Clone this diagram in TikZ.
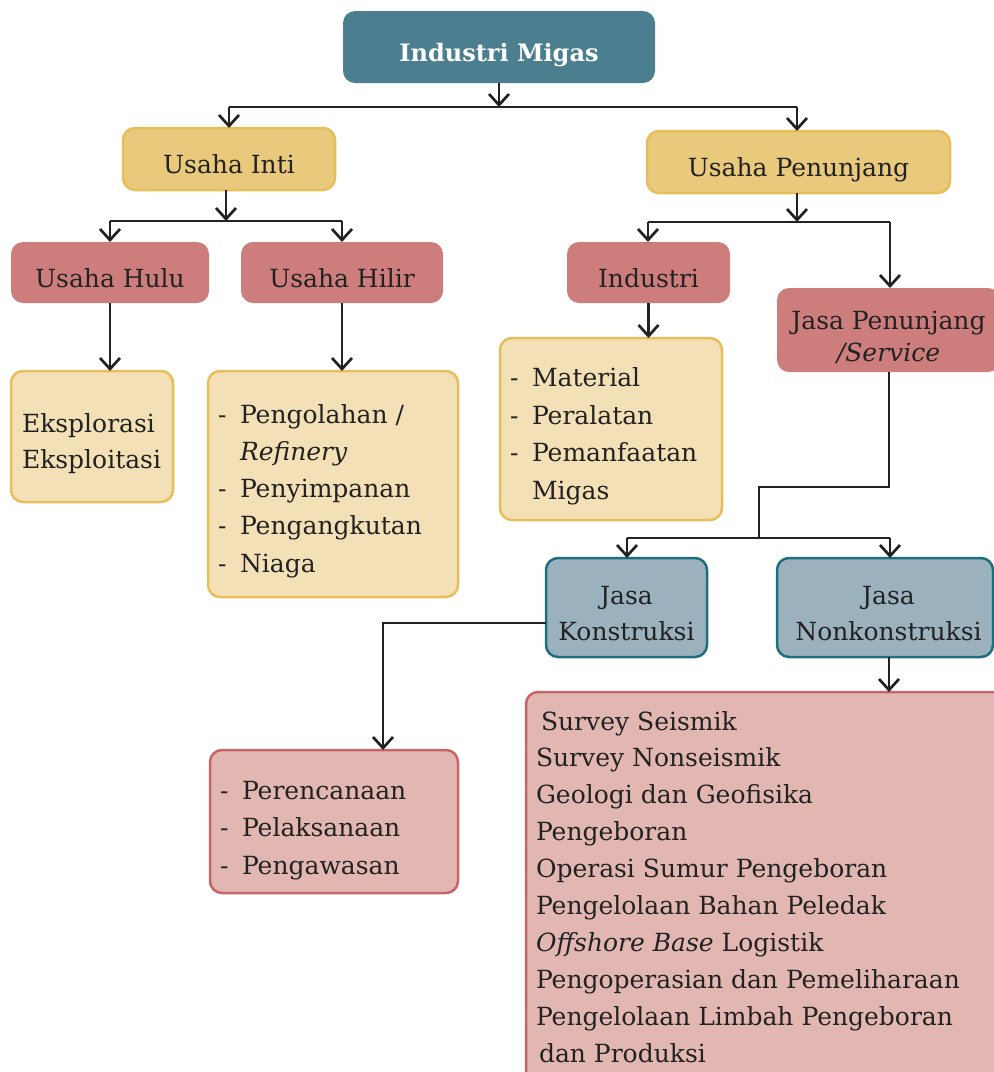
\documentclass[tikz,border=0pt]{standalone}
\usepackage{fontspec}
\setmainfont{DejaVu Serif}
\usetikzlibrary{arrows.meta}
\definecolor{tealhead}{HTML}{4B7F90}
\definecolor{goldfill}{HTML}{E9C97B}
\definecolor{goldline}{HTML}{E6BE5A}
\definecolor{salmon}{HTML}{CD7E7C}
\definecolor{creamfill}{HTML}{F4E0B6}
\definecolor{greyblue}{HTML}{9BB1BD}
\definecolor{tealline}{HTML}{1E6E7F}
\definecolor{pinkfill}{HTML}{E2B7B2}
\definecolor{pinkline}{HTML}{C96567}
\definecolor{ink}{HTML}{222222}
% box body: width, height, first baseline from top, alignment, lines
\newcommand\panel[5]{%
  \begin{minipage}[c][#2pt][t]{#1pt}#4%
  \vspace*{\dimexpr#3pt-19pt\relax}\rule{0pt}{19pt}#5\end{minipage}}
\newcommand\bul{\makebox[22pt][l]{-}}
\newcommand\hang{\hspace*{22pt}}
\begin{document}
\begin{tikzpicture}[x=1pt,y=-1pt,
  every node/.style={text=ink, font=\fontsize{25}{37.5}\selectfont, inner sep=0pt,
    outer sep=0pt, anchor=north west},
  headbox/.style={fill=tealhead, rounded corners=12pt, text=white,
    font=\fontsize{24}{30}\selectfont\bfseries},
  goldbox/.style={fill=goldfill, draw=goldline, line width=2.5pt, rounded corners=12pt},
  redbox/.style={fill=salmon, rounded corners=12pt},
  creambox/.style={fill=creamfill, draw=goldline, line width=2.5pt, rounded corners=12pt},
  bluebox/.style={fill=greyblue, draw=tealline, line width=2.5pt, rounded corners=12pt},
  pinkbox/.style={fill=pinkfill, draw=pinkline, line width=2.5pt, rounded corners=12pt},
  link/.style={draw=ink, line width=2.7pt},
  arr/.style={link, -{Straight Barb[length=11pt,width=20pt]}}
]
\useasboundingbox (0,0) rectangle (994,1072);
\clip (0,0) rectangle (994,1072);

% first level
\node[headbox] (migas) at (343,11) {\panel{312}{72}{50.5}{\centering}{Industri Migas}};
\node[goldbox] (inti) at (123,128) {\panel{212}{62}{45}{\centering}{Usaha Inti}};
\node[goldbox] (penunjang) at (647,131) {\panel{303}{62}{45}{\centering}{Usaha Penunjang}};

% second level
\node[redbox] (hulu) at (11,242) {\panel{198}{61}{45}{\centering}{Usaha Hulu}};
\node[redbox] (hilir) at (241,242) {\panel{202}{61}{45}{\centering}{Usaha Hilir}};
\node[redbox] (industri) at (567,242) {\panel{163}{61}{45}{\centering}{Industri}};
\node[redbox] (jasa) at (777,288)
  {\fontsize{25}{32}\selectfont\panel{223}{84}{41}{\centering}{Jasa Penunjang\\\textit{/Service}}};

% detail boxes
\node[creambox] (eks) at (11,371)
  {\fontsize{25}{36.7}\selectfont\panel{162}{131}{61}{\raggedright\leftskip=11pt}{Eksplorasi\\Eksploitasi}};
\node[creambox] (hlist) at (208,371)
  {\fontsize{25}{37.3}\selectfont\panel{250}{226}{52}{\raggedright\leftskip=10pt}%
  {\bul Pengolahan /\\\hang\textit{Refinery}\\\bul Penyimpanan\\\bul Pengangkutan\\\bul Niaga}};
\node[creambox] (material) at (500,338)
  {\panel{222}{182}{48.7}{\raggedright\leftskip=10pt}%
  {\bul Material\\\bul Peralatan\\\bul Pemanfaatan\\\hang Migas}};

% services
\node[bluebox] (konst) at (546,558)
  {\fontsize{25}{36.7}\selectfont\panel{161}{99}{46}{\centering}{Jasa\\Konstruksi}};
\node[bluebox] (nonk) at (777,558)
  {\fontsize{25}{36.7}\selectfont\panel{216}{99}{46}{\centering\leftskip=7pt plus 1fil}{Jasa\\Nonkonstruksi}};
\node[pinkbox] (perenc) at (210,750)
  {\panel{248}{143}{49}{\raggedright\leftskip=10pt}%
  {\bul Perencanaan\\\bul Pelaksanaan\\\bul Pengawasan}};
\node[pinkbox] (nonklist) at (526,692)
  {\fontsize{25}{36.9}\selectfont\panel{490}{400}{38}{\raggedright\leftskip=10pt}%
  {\hspace*{5pt}Survey Seismik\\Survey Nonseismik\\Geologi dan Geofisika\\Pengeboran\\
   Operasi Sumur Pengeboran\\Pengelolaan Bahan Peledak\\\textit{Offshore Base} Logistik\\
   Pengoperasian dan Pemeliharaan\\Pengelolaan Limbah Pengeboran\\\hspace*{3pt}dan Produksi}};

% junctions
\coordinate (t0) at (499,107);
\coordinate (tl) at (229,107);
\coordinate (tr) at (797,107);
\coordinate (i0) at (226,221);
\coordinate (il) at (110,221);
\coordinate (ir) at (342,221);
\coordinate (p0) at (797,222);
\coordinate (pl) at (648,222);
\coordinate (pr) at (890,222);
\coordinate (s1) at (889,487);
\coordinate (s2) at (759,487);
\coordinate (s3) at (759,538);
\coordinate (sl) at (627,538);
\coordinate (sr) at (890,538);
\coordinate (kc) at (383,623);
\coordinate (nk) at (889,657);

% connectors
\draw[arr] (migas.south) -- (t0);
\draw[link] (tl) -- (tr);
\draw[arr] (tl) -- (tl |- inti.north);
\draw[arr] (tr) -- (tr |- penunjang.north);

\draw[arr] (i0 |- inti.south) -- (i0);
\draw[link] (il) -- (ir);
\draw[arr] (il) -- (il |- hulu.north);
\draw[arr] (ir) -- (ir |- hilir.north);

\draw[arr] (p0 |- penunjang.south) -- (p0);
\draw[link] (pl) -- (pr);
\draw[arr] (pl) -- (pl |- industri.north);
\draw[arr] (pr) -- (pr |- jasa.north);

\draw[arr] (hulu.south) -- (hulu.south |- eks.north);
\draw[arr] (hilir.south) -- (hilir.south |- hlist.north);
\draw[arr] (industri.south) -- (industri.south |- material.north);

\draw[link] (s1 |- jasa.south) -- (s1) -- (s2) -- (s3);
\draw[link] (sl) -- (sr);
\draw[arr] (sl) -- (sl |- konst.north);
\draw[arr] (sr) -- (sr |- nonk.north);

\draw[arr] (konst.west |- kc) -- (kc) -- (kc |- perenc.north);
\draw[arr] (nk |- nonk.south) -- (nk |- nonklist.north);
\end{tikzpicture}
\end{document}
